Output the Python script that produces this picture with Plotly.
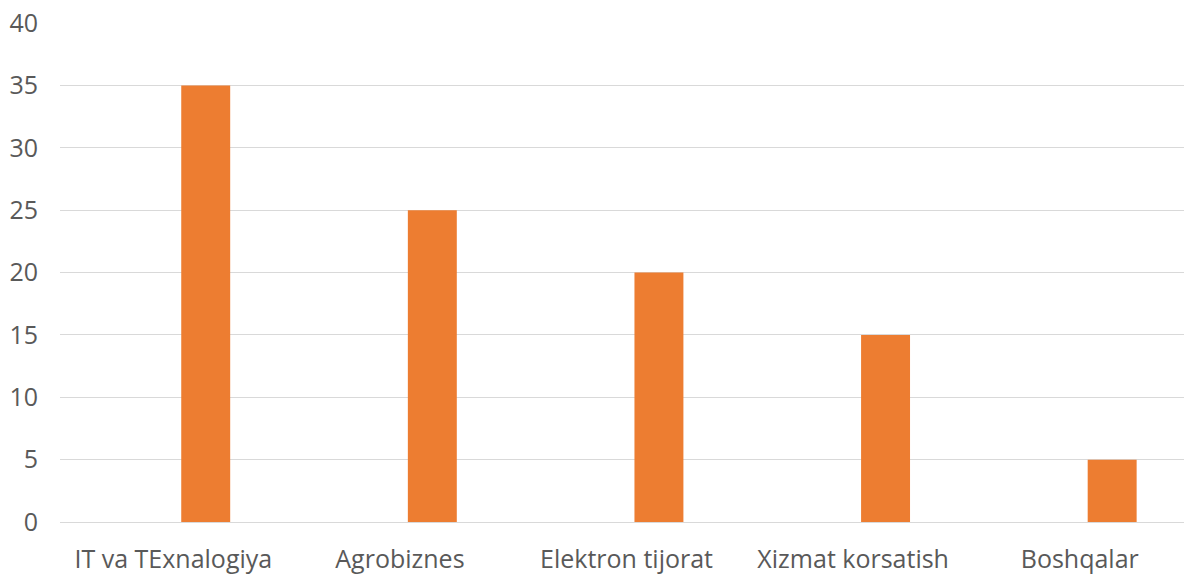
import plotly.graph_objects as go

categories = ["IT va TExnalogiya", "Agrobiznes", "Elektron tijorat", "Xizmat korsatish", "Boshqalar"]
values = [35, 25, 20, 15, 5]
y_ticks = [0, 5, 10, 15, 20, 25, 30, 35, 40]

fig = go.Figure()
fig.add_trace(go.Bar(
    x=categories, y=values,
    marker=dict(color="#ED7D31", line=dict(width=0)),
    width=0.216, offset=0.035,
    hoverinfo="x+y",
))

font = dict(family="Open Sans, Segoe UI, sans-serif", size=25, color="#595959")
fig.update_layout(
    width=1184, height=575,
    margin=dict(l=59.5, r=0, t=23, b=47),
    paper_bgcolor="white", plot_bgcolor="white",
    showlegend=False,
    font=font,
    xaxis=dict(
        type="category", range=[-0.5, 4.46],
        showgrid=False, showline=False, zeroline=False,
        ticks="", tickfont=font, ticklabelstandoff=20,
    ),
    yaxis=dict(
        range=[0, 40], tickvals=y_ticks,
        showgrid=True, gridcolor="#d9d9d9", gridwidth=1,
        zeroline=True, zerolinecolor="#d9d9d9", zerolinewidth=1,
        showline=False, ticks="", tickfont=font, ticklabelstandoff=21,
    ),
)

fig.write_html(
    "out.html",
    config={"displayModeBar": False},
    post_script="document.body.style.margin='0';document.body.style.overflow='hidden';",
)
